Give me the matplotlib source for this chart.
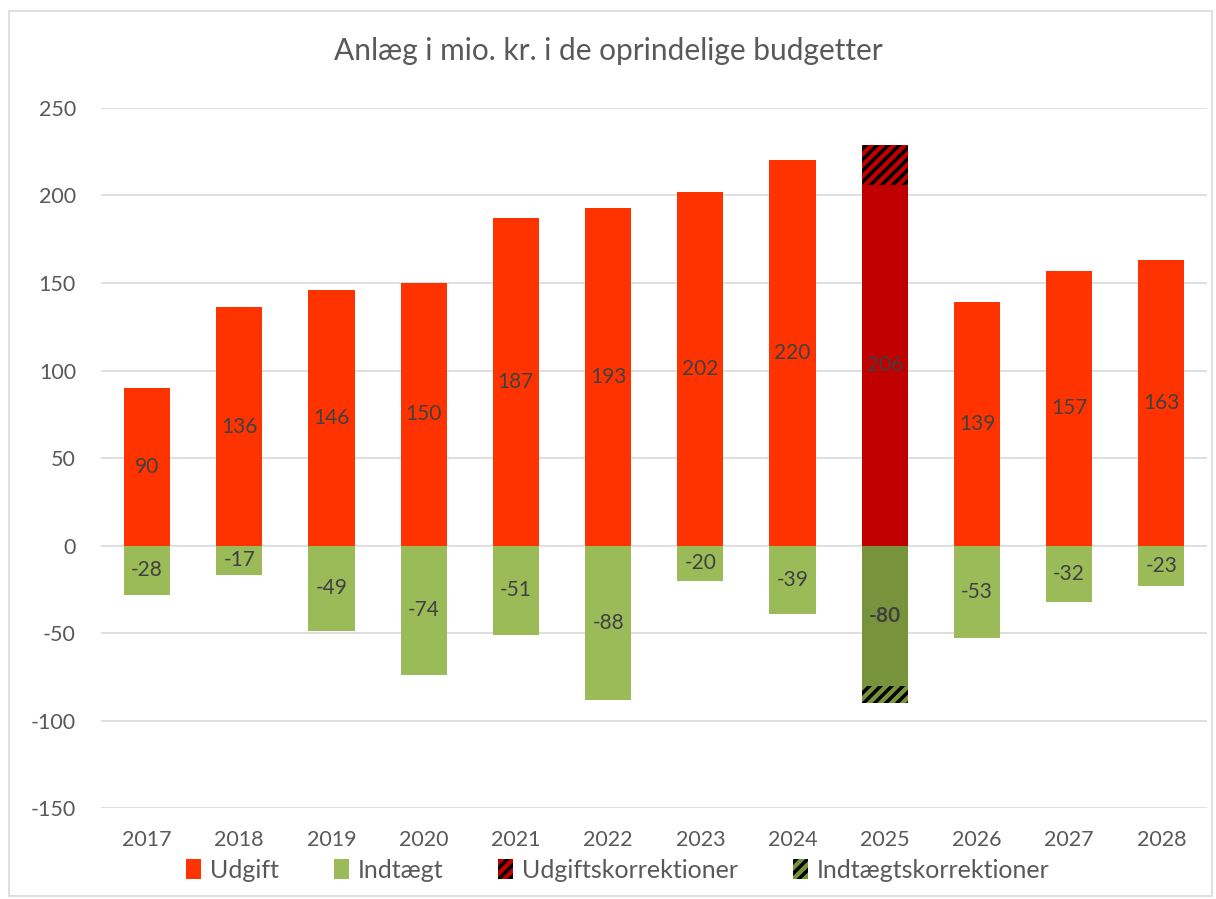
import numpy as np
import matplotlib.pyplot as plt
from matplotlib.patches import Patch, Rectangle

plt.rcParams['font.family'] = ['Lato', 'DejaVu Sans']
plt.rcParams['hatch.linewidth'] = 2.5
plt.rcParams['axes.unicode_minus'] = False

years = ['2017', '2018', '2019', '2020', '2021', '2022',
         '2023', '2024', '2025', '2026', '2027', '2028']
udgift = [90, 136, 146, 150, 187, 193, 202, 220, 206, 139, 157, 163]
indtaegt = [-28, -17, -49, -74, -51, -88, -20, -39, -80, -53, -32, -23]
udgift_korr = [0, 0, 0, 0, 0, 0, 0, 0, 23, 0, 0, 0]
indtaegt_korr = [0, 0, 0, 0, 0, 0, 0, 0, -10, 0, 0, 0]

red = '#FF3300'
green = '#9BBB59'
dark_red = '#C00000'
dark_green = '#77933C'
txt = '#404040'

fig = plt.figure(figsize=(12.16, 8.99), dpi=100)
ax = fig.add_axes([0.083, 0.101, 0.910, 0.779])

x = np.arange(len(years))
w = 0.5
hl = 2025 - 2017
ucol = [dark_red if i == hl else red for i in x]
icol = [dark_green if i == hl else green for i in x]

ax.bar(x, udgift, w, color=ucol, zorder=3, linewidth=0)
ax.bar(x, indtaegt, w, color=icol, zorder=3, linewidth=0)
ax.bar(x, udgift_korr, w, bottom=udgift, color=dark_red, hatch='///',
       edgecolor='black', linewidth=0, zorder=3)
ax.bar(x, indtaegt_korr, w, bottom=indtaegt, color=dark_green, hatch='///',
       edgecolor='black', linewidth=0, zorder=3)

for i in x:
    bold = 'bold' if i == hl else 'normal'
    ax.text(i, udgift[i] / 2, str(udgift[i]), ha='center', va='center',
            fontsize=15, color=txt, zorder=4)
    ax.text(i, indtaegt[i] / 2, str(indtaegt[i]), ha='center', va='center',
            fontsize=15, color=txt, fontweight=bold, zorder=4)

ax.set_xlim(-0.5, len(years) - 0.5)
ax.set_ylim(-150, 250)
ax.set_yticks(range(-150, 251, 50))
ax.set_xticks(x)
ax.set_xticklabels(years)
ax.tick_params(axis='both', length=0, labelsize=15.5, labelcolor='#595959')
ax.tick_params(axis='x', pad=16)
ax.tick_params(axis='y', pad=18)
ax.grid(axis='y', color='#D9D9D9', linewidth=1.2, zorder=0)
for s in ax.spines.values():
    s.set_visible(False)

fig.text(0.5, 0.943, 'Anlæg i mio. kr. i de oprindelige budgetter',
         ha='center', va='center', fontsize=21.5, color='#595959')

handles = [
    Patch(facecolor=red, label='Udgift'),
    Patch(facecolor=green, label='Indtægt'),
    Patch(facecolor=dark_red, hatch='///', edgecolor='black', linewidth=0,
          label='Udgiftskorrektioner'),
    Patch(facecolor=dark_green, hatch='///', edgecolor='black', linewidth=0,
          label='Indtægtskorrektioner'),
]
leg = fig.legend(handles=handles, loc='center', bbox_to_anchor=(0.508, 0.032),
                 ncol=4, frameon=False, fontsize=18, handlelength=0.6,
                 handleheight=0.8, handletextpad=0.35, columnspacing=2.2)
for t in leg.get_texts():
    t.set_color('#595959')

fig.patches.append(Rectangle((0.007, 0.003), 0.99, 0.985, transform=fig.transFigure,
                             fill=False, edgecolor='#D9D9D9', linewidth=1.2))

fig.savefig('out.png', dpi=100)
